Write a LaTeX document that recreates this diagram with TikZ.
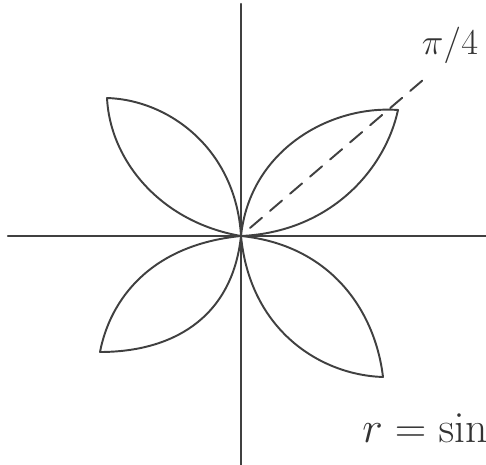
\documentclass[tikz,border=0pt]{standalone}
\usetikzlibrary{positioning}
\begin{document}
\begin{tikzpicture}[
  x=0.02cm, y=-0.02cm,
  pen/.style={draw=black!75, line width=1.1pt, line cap=round, line join=round},
  axis/.style={pen, line width=1.2pt},
  ray/.style={pen, dashed, dash pattern=on 9pt off 6pt},
  hand/.style={text=black!80, inner sep=0pt},
]
\clip (0,0) rectangle (486,465);
\fill[white] (0,0) rectangle (486,465);
% axes
\coordinate (O) at (241,236);
\draw[axis] (8,236) -- (486,236);
\draw[axis] (241,4) -- (241,465);
% petal tips
\coordinate (ur) at (398,110);
\coordinate (ul) at (107,98);
\coordinate (ll) at (100,352);
\coordinate (lr) at (383,377);
% petals
\draw[pen] (O) .. controls (250,150) and (330,105) .. (ur);
\draw[pen] (O) .. controls (330,232) and (385,170) .. (ur);
\draw[pen] (O) .. controls (236,150) and (170,100) .. (ul);
\draw[pen] (O) .. controls (160,222) and (110,160) .. (ul);
\draw[pen] (O) .. controls (150,245) and (110,300) .. (ll);
\draw[pen] (O) .. controls (232,320) and (170,352) .. (ll);
\draw[pen] (O) .. controls (330,245) and (375,310) .. (lr);
\draw[pen] (O) .. controls (250,330) and (320,375) .. (lr);
% ray at pi/4
\coordinate (rayend) at (430,74);
\draw[ray] (250,228) -- (rayend);
\node[hand, font=\fontsize{20}{22}\selectfont] (angle) at (450,45) {$\pi/4$};
\node[hand, font=\fontsize{30}{32}\selectfont, anchor=base west] (eqn) at (362,442) {$r = \sin$};
\end{tikzpicture}
\end{document}
